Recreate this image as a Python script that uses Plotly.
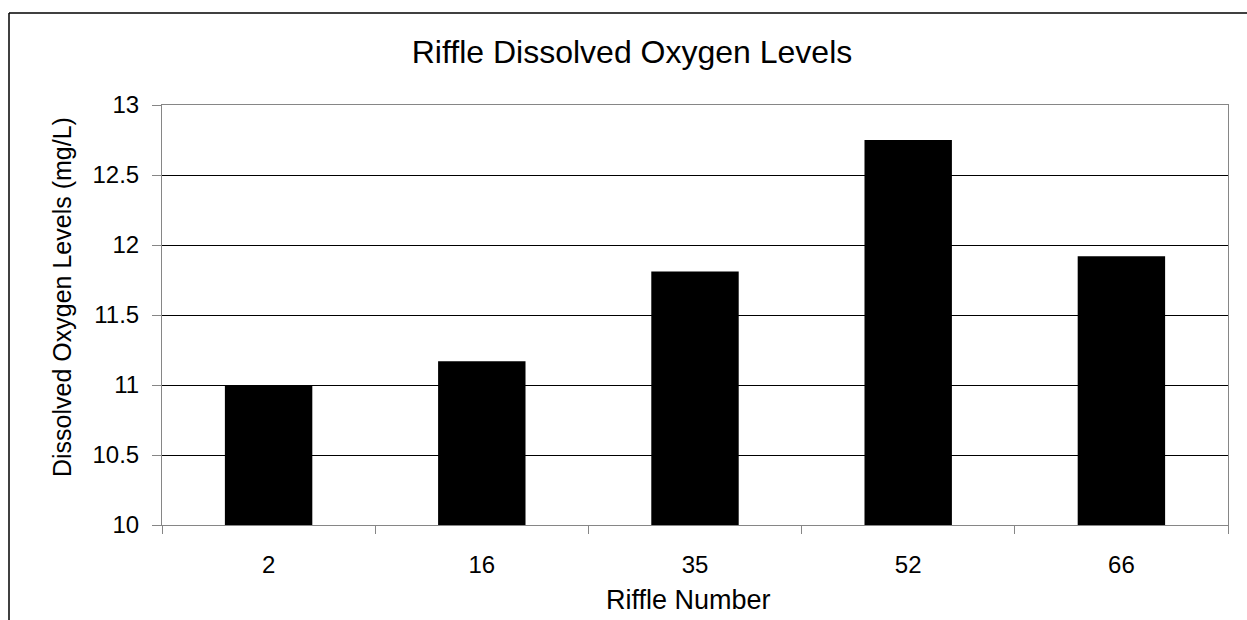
import plotly.graph_objects as go

riffles = ["2", "16", "35", "52", "66"]
do_levels = [11.0, 11.17, 11.81, 12.75, 11.92]
y_ticks = [10, 10.5, 11, 11.5, 12, 12.5, 13]
y_tick_text = ["10", "10.5", "11", "11.5", "12", "12.5", "13"]

FONT = "Liberation Sans, Arial, sans-serif"

fig = go.Figure(go.Bar(
    x=riffles, y=do_levels,
    marker=dict(color="#000000", line=dict(color="#000000", width=0)),
))

W, H = 1247, 620
L, R, T, B = 162, 19, 105, 95
pw, ph = W - L - R, H - T - B

fig.update_layout(
    width=W, height=H,
    margin=dict(l=L, r=R, t=T, b=B, pad=0),
    paper_bgcolor="white", plot_bgcolor="white",
    bargap=0.59,
    showlegend=False,
    title=dict(text="Riffle Dissolved Oxygen Levels", x=632 / W, xanchor="center",
               y=1 - 52 / H, yanchor="middle",
               font=dict(family=FONT, size=32, color="#000000")),
    font=dict(family=FONT, color="#000000"),
    xaxis=dict(
        type="category",
        showline=True, linecolor="#868686", linewidth=1, mirror=True,
        ticks="outside", tickson="boundaries", ticklen=8, tickcolor="#868686",
        tickfont=dict(size=24, color="#000000"),
        ticklabelstandoff=18,
        showgrid=False,
    ),
    yaxis=dict(
        range=[10, 13],
        tickvals=y_ticks, ticktext=y_tick_text,
        showline=True, linecolor="#868686", linewidth=1, mirror=True,
        ticks="outside", ticklen=9, tickcolor="#868686",
        tickfont=dict(size=24, color="#000000"),
        ticklabelstandoff=8,
        showgrid=True, gridcolor="#000000", gridwidth=1,
        zeroline=False,
    ),
    annotations=[
        dict(
            text="Dissolved Oxygen Levels (mg/L)", textangle=-90,
            xref="paper", yref="paper",
            x=(62 - L) / pw, y=(H - B - 297) / ph,
            xanchor="center", yanchor="middle", showarrow=False,
            font=dict(family=FONT, size=25, color="#000000"),
        ),
        dict(
            text="Riffle Number",
            xref="paper", yref="paper",
            x=(688.5 - L) / pw, y=-(600 - (H - B)) / ph,
            xanchor="center", yanchor="middle", showarrow=False,
            font=dict(family=FONT, size=27, color="#000000"),
        ),
    ],
    shapes=[
        dict(type="line", xref="paper", yref="paper",
             x0=(9 - L) / pw, x1=(9 - L) / pw,
             y0=-(B + 20) / ph, y1=(H - B - 13) / ph,
             line=dict(color="#000000", width=1.5), layer="below"),
        dict(type="line", xref="paper", yref="paper",
             x0=(9 - L) / pw, x1=(W + 20 - L) / pw,
             y0=(H - B - 13) / ph, y1=(H - B - 13) / ph,
             line=dict(color="#000000", width=1.5), layer="below"),
    ],
)

fig.write_html(
    "out.html",
    config={"displayModeBar": False},
    post_script="document.body.style.margin='0';document.body.style.overflow='hidden';",
)
